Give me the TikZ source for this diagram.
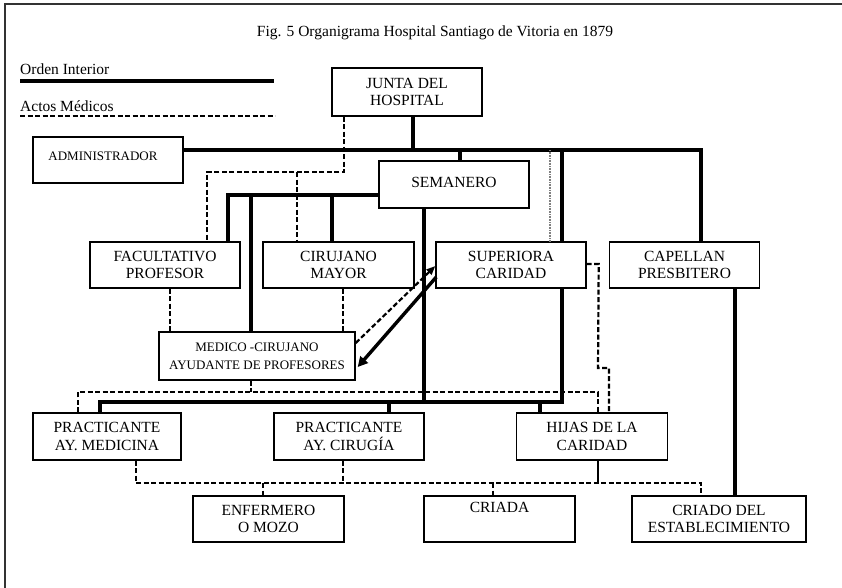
\documentclass[tikz,border=0pt]{standalone}
\usepackage{fontspec}
\setmainfont{Liberation Serif}
\usetikzlibrary{arrows.meta,calc}
\tikzset{
  box/.style={draw, line width=1.4pt, fill=white, minimum width=150pt, minimum height=46pt,
    align=center, inner sep=0pt, font=\fontsize{15.5}{17.5}\selectfont},
  smallbox/.style={box, font=\fontsize{13}{18.5}\selectfont},
  ord/.style={line width=4.2pt},
  med/.style={line width=2.2pt, dash pattern=on 5pt off 2.5pt},
  thinline/.style={line width=1.3pt},
  grayline/.style={line width=1.3pt, black!50, dash pattern=on 1pt off 0.6pt},
  lbl/.style={inner sep=0pt, font=\fontsize{15.5}{17.5}\selectfont},
}
\begin{document}
\begin{tikzpicture}[x=1pt,y=-1pt]
\useasboundingbox (0,0) rectangle (842,587);
% frame
\draw[line width=1.6pt, black!80] (5,600) -- (5,4) -- (850,4);

% title and legend
\node[lbl, anchor=base] (title) at (435,36) {Fig. 5 Organigrama Hospital Santiago de Vitoria en 1879};
\node[lbl, anchor=base west] (lo) at (20,74) {Orden Interior};
\draw[ord] ([yshift=-7pt]lo.base west) -- ++(254,0);
\node[lbl, anchor=base west] (la) at (20,111) {Actos Médicos};
\draw[med] ([yshift=-5pt]la.base west) -- ++(255,0);

% level coordinates
\coordinate (yBus) at (0,150);
\coordinate (ySem) at (0,195);
\coordinate (yJd)  at (0,172);
\coordinate (ySd)  at (0,368);
\coordinate (yPd)  at (0,392);
\coordinate (yPb)  at (0,402);
\coordinate (yBd)  at (0,483);

% boxes
\node[box, minimum height=48pt] (junta) at (407,92) {JUNTA DEL\\HOSPITAL};
\node[box] (admin) at (108,160) {};
\node[inner sep=0pt, font=\fontsize{13}{15}\selectfont] (admintext) at (103,156) {ADMINISTRADOR};
\node[box, minimum height=47pt] (sem) at (454,184.5) {\raisebox{4pt}{SEMANERO}};
\node[box] (fac) at (165,265) {FACULTATIVO\\PROFESOR};
\node[box, minimum width=151pt] (cir) at (338.5,265) {CIRUJANO\\MAYOR};
\node[box] (sup) at (511,265) {SUPERIORA\\CARIDAD};
\node[box] (cap) at (684.5,265) {CAPELLAN\\PRESBITERO};
\node[smallbox, minimum width=196pt, minimum height=48pt] (med) at (257,356) {MEDICO -CIRUJANO\\AYUDANTE DE PROFESORES};
\node[box, minimum width=148pt, minimum height=47pt] (pm) at (107,436.5) {PRACTICANTE\\AY. MEDICINA};
\node[box, minimum height=47pt] (pc) at (349,436.5) {PRACTICANTE\\AY. CIRUGÍA};
\node[box, minimum width=151pt, minimum height=47pt] (hij) at (592,436.5) {HIJAS DE LA\\CARIDAD};
\node[box, minimum width=151pt] (enf) at (268.5,519) {ENFERMERO\\O MOZO};
\node[box, minimum width=151pt] (cri) at (499.5,519) {CRIADA\\\strut};
\node[box, minimum width=174pt] (cdo) at (719,519) {CRIADO DEL\\ESTABLECIMIENTO};

% thick lines (orden interior)
\draw[ord] ([xshift=6pt]junta.south) -- ([xshift=6pt]junta.south |- yBus);
\draw[ord] (admin.east |- yBus) -- ([xshift=16.5pt]cap.north |- yBus) -- ([xshift=16.5pt]cap.north);
\draw[ord] ([xshift=6pt]sem.north |- yBus) -- ([xshift=6pt]sem.north);
\draw[grayline] ([xshift=39pt]sup.north |- yBus) -- ([xshift=39pt]sup.north);
\draw[ord] ([xshift=51pt]sup.north |- yBus) -- ([xshift=51pt]sup.north);
\draw[ord] (sem.west |- ySem) -- ([xshift=63pt]fac.north |- ySem) -- ([xshift=63pt]fac.north);
\draw[ord] ([xshift=-6pt]med.north |- ySem) -- ([xshift=-6pt]med.north);
\draw[ord] ([xshift=-6.5pt]cir.north |- ySem) -- ([xshift=-6.5pt]cir.north);
\draw[ord] ([xshift=-30pt]sem.south) -- ([xshift=-30pt]sem.south |- yPb);
\draw[ord] ([xshift=51pt]sup.south) -- ([xshift=51pt]sup.south |- yPb) -- ([xshift=-7pt]pm.north |- yPb) -- ([xshift=-7pt]pm.north);
\draw[ord] ([xshift=40pt]pc.north |- yPb) -- ([xshift=40pt]pc.north);
\draw[ord] ([xshift=-52pt]hij.north |- yPb) -- ([xshift=-52pt]hij.north);
\draw[ord] ([xshift=50.5pt]cap.south) -- ([xshift=50.5pt]cap.south |- cdo.north);

% dashed lines (actos medicos)
\draw[med] ([xshift=-63pt]junta.south) -- ([xshift=-63pt]junta.south |- yJd) -- ([xshift=42pt]fac.north |- yJd) -- ([xshift=42pt]fac.north);
\draw[med] ([xshift=-41.5pt]cir.north |- yJd) -- ([xshift=-41.5pt]cir.north);
\draw[med] ([xshift=5pt]fac.south) -- ([xshift=5pt]fac.south |- med.north);
\draw[med] ([xshift=4.5pt]cir.south) -- ([xshift=4.5pt]cir.south |- med.north);
\draw[med] ([xshift=-6pt]med.south) -- ([xshift=-6pt]med.south |- yPd);
\draw[med] ([xshift=-29pt]pm.north) -- ([xshift=-29pt]pm.north |- yPd) -- ([xshift=6pt]hij.north |- yPd) -- ([xshift=6pt]hij.north);
\draw[med] ([yshift=1pt]sup.east) -- ++(12,0) -- ([xshift=6pt]hij.north |- ySd) -- ([xshift=17pt]hij.north |- ySd) -- ([xshift=17pt]hij.north);
\draw[med] ([xshift=29pt]pm.south) -- ([xshift=29pt]pm.south |- yBd) -- ([xshift=-18pt]cdo.north |- yBd) -- ([xshift=-18pt]cdo.north);
\draw[med] ([xshift=-6pt]pc.south) -- ([xshift=-6pt]pc.south |- yBd);
\draw[med] ([xshift=-5.5pt]enf.north |- yBd) -- ([xshift=-5.5pt]enf.north);
\draw[med] ([xshift=-6.5pt]cri.north |- yBd) -- ([xshift=-6.5pt]cri.north);
\draw[thinline] ([xshift=6pt]hij.south) -- ([xshift=6pt]hij.south |- yBd);

% arrows between MEDICO and SUPERIORA
\draw[med, -{Triangle[length=9pt,width=7pt]}] ([yshift=13pt]med.east) -- ([yshift=-1pt]sup.west);
\draw[line width=3.4pt, -{Triangle[length=10pt,width=10pt]}] ([xshift=1pt,yshift=-12pt]sup.west) -- ([xshift=2pt,yshift=-11pt]med.east);
\end{tikzpicture}
\end{document}
